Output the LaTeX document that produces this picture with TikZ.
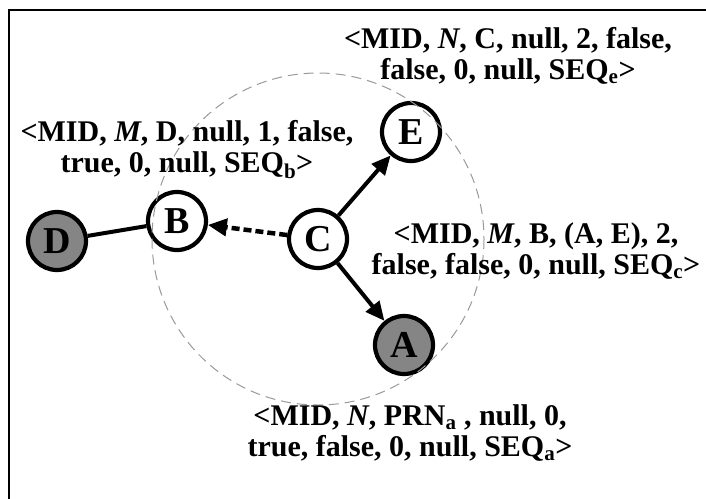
\documentclass[tikz,border=0pt]{standalone}
\usepackage{fontspec}
\setmainfont{Liberation Serif}
\usetikzlibrary{arrows.meta}
\newcommand{\lbltext}{\fontsize{30}{31}\selectfont\bfseries}
\newcommand{\nodetext}{\fontsize{38}{38}\selectfont\bfseries}
\tikzset{
  nd/.style={circle, draw, line width=4.2pt, minimum size=58pt, inner sep=0pt, fill=white, font=\nodetext},
  ndgray/.style={nd, fill=black!48},
  lbl/.style={align=center, font=\lbltext, inner sep=0pt},
  link/.style={line width=4pt},
  arr/.style={link, -{Triangle[length=19pt,width=17pt]}},
  darr/.style={arr, dash pattern=on 8pt off 4pt, line width=4.5pt},
  rangecircle/.style={draw=black!40, line width=1pt, dash pattern=on 10pt off 6pt},
  frame/.style={line width=1.5pt}
}
\begin{document}
\begin{tikzpicture}[x=1pt, y=-1pt]
\useasboundingbox (0,0) rectangle (706,498);
\coordinate (ftr) at (720,10);
\coordinate (ftl) at (9,10);
\coordinate (fbl) at (9,510);
\draw[frame] (ftr) -- (ftl) -- (fbl);

% nodes
\node[nd]     (C) at (318,239) {C};
\node[nd]     (E) at (411,132) {E};
\node[nd]     (B) at (177,221) {B};
\node[ndgray] (D) at (57,241)  {D};
\node[ndgray] (A) at (404,345) {A};

% connectors
\draw[link] (D) -- (B);
\draw[arr]  (C) -- (E);
\draw[arr]  (C) -- (A);
\draw[darr] (C) -- (B);

% transmission range of C
\draw[rangecircle] (C.center) circle[radius=166];

% message tuples
\node[lbl] (tE) at (508,56)  {<MID, \textit{N}, C, null, 2, false,\\false, 0, null, SEQ\textsubscript{e}>};
\node[lbl] (tB) at (187,150) {<MID, \textit{M}, D, null, 1, false,\\true, 0, null, SEQ\textsubscript{b}>};
\node[lbl] (tC) at (536,251) {<MID, \textit{M}, B, (A, E), 2,\\false, false, 0, null, SEQ\textsubscript{c}>};
\node[lbl] (tA) at (410,433) {<MID, \textit{N}, PRN\textsubscript{a} , null, 0,\\true, false, 0, null, SEQ\textsubscript{a}>};
\end{tikzpicture}
\end{document}
